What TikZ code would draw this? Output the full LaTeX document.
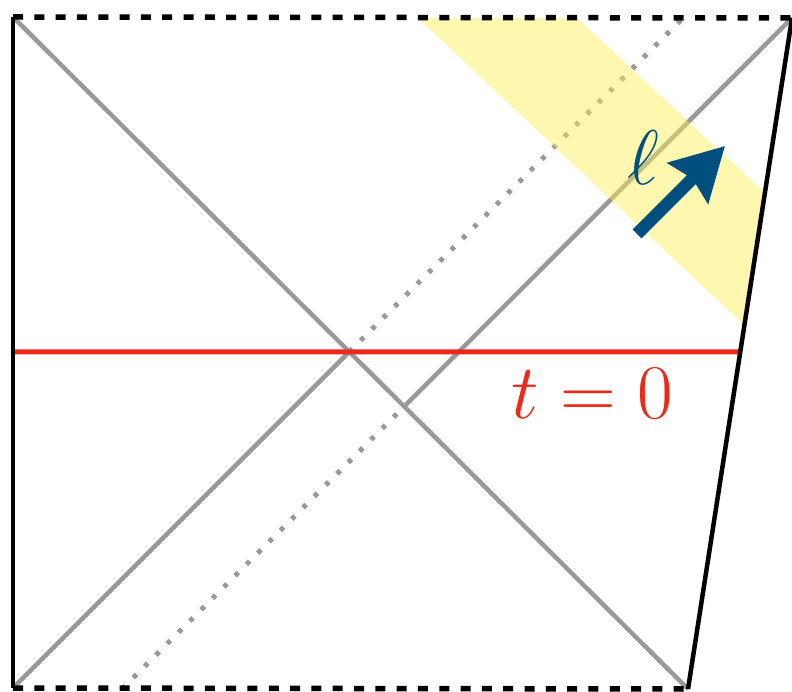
\RequirePackage{fix-cm}
\documentclass[tikz,border=0pt]{standalone}
\usetikzlibrary{calc, arrows.meta}
\definecolor{hzngray}{RGB}{153,153,153}
\definecolor{slicered}{RGB}{236,40,24}
\definecolor{fluxblue}{RGB}{0,79,127}
\definecolor{bandyellow}{RGB}{255,236,80}
\tikzset{
  % Boundaries of the diagram
  wall/.style={black, line width=0.045cm},
  singular/.style={black, line width=0.055cm, dash pattern=on 0.1cm off 0.113cm},
  % Horizons
  horizon/.style={hzngray, line width=0.045cm},
  oldhorizon/.style={hzngray, line width=0.05cm, dash pattern=on 0.045cm off 0.115cm},
  % Time slice and flux
  slice/.style={slicered, line width=0.05cm},
  band/.style={fill=bandyellow, fill opacity=0.45},
  flux/.style={fluxblue, line width=0.125cm, -{Stealth[length=0.52cm, width=0.56cm, inset=0.06cm]}},
  % Labels
  biglabel/.style={font=\fontsize{22}{26}\selectfont},
}

\begin{document}
\begin{tikzpicture}[x=0.01cm, y=-0.01cm]
  \useasboundingbox (0,0) rectangle (792,692);

  % --- CORNERS ---
  \coordinate (tl) at (13,17);
  \coordinate (tr) at (792,18);
  \coordinate (bl) at (13,688);
  \coordinate (br) at (688,689);
  \coordinate (oldtop) at (684,17);
  \coordinate (newbot) at (122,689);

  % Crossings with the diagonal
  \coordinate (O) at (intersection of tl--br and bl--oldtop);
  \coordinate (P) at (intersection of tl--br and newbot--tr);
  \coordinate (Oright) at ($(O)+(100,0)$);
  \coordinate (Oleft) at (O -| bl);
  \coordinate (Oedge) at (intersection of tr--br and O--Oright);

  % --- HORIZONS ---
  \draw[horizon] (tl) -- (br);
  \draw[horizon] (bl) -- (O);
  \draw[horizon] (P) -- (tr);
  \draw[oldhorizon] (O) -- (oldtop);
  \draw[oldhorizon] (newbot) -- (P);

  % Time slice
  \draw[slice] (Oleft) -- (Oedge);

  % Shell of infalling matter
  \fill[band] (418,18) -- (577,18) -- (765,193) -- (744,325) -- cycle;

  % --- BOUNDARIES ---
  \draw[wall] (tl) -- (bl);
  \draw[wall] (tr) -- (br);
  \draw[singular] (tl) -- (tr);
  \draw[singular] (bl) -- (br);

  % --- FLUX ---
  \coordinate (fluxtail) at (637,234);
  \coordinate (fluxtip) at (725,146);
  \draw[flux] (fluxtail) -- (fluxtip);
  \node[biglabel, text=fluxblue] (ell) at (643,158) {$\ell$};

  \node[biglabel, text=slicered, anchor=base] (tzero) at (592,419) {$t = 0$};

\end{tikzpicture}
\end{document}
